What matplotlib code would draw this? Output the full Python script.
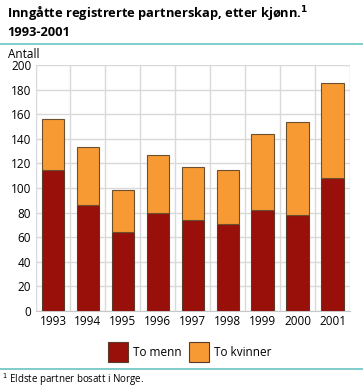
import matplotlib.pyplot as plt
import numpy as np
from matplotlib.patches import Rectangle
from matplotlib.lines import Line2D

plt.rcParams['font.family'] = ['Open Sans', 'DejaVu Sans']

years = ['1993', '1994', '1995', '1996', '1997', '1998', '1999', '2000', '2001']
menn = [115, 86, 64, 80, 74, 71, 82, 78, 108]
kvinner = [41, 47, 34, 47, 43, 44, 62, 76, 77]

c_menn = '#990f0a'
c_kvinner = '#f79a33'
teal = '#6cc4c4'

fig = plt.figure(figsize=(3.63, 3.87), dpi=100)
W, H = 363, 387

ax = fig.add_axes([35.5 / W, 1 - 311 / H, (350 - 35.5) / W, (311 - 65) / H])
x = np.arange(len(years))
ax.bar(x, menn, width=0.64, color=c_menn, edgecolor='#5a3a2a', linewidth=0.8, zorder=3)
ax.bar(x, kvinner, bottom=menn, width=0.64, color=c_kvinner, edgecolor='#6b5030', linewidth=0.8, zorder=3)

ax.set_xlim(-0.5, len(years) - 0.5)
ax.set_ylim(0, 200)
ax.set_yticks(range(0, 201, 20))
ax.set_xticks(x)
ax.set_xticklabels(years)
ax.set_xticks(np.arange(-0.5, len(years)), minor=True)
ax.grid(axis='y', which='major', color='#d9d9d9', linewidth=1, zorder=0)
ax.grid(axis='x', which='minor', color='#d9d9d9', linewidth=1, zorder=0)
ax.tick_params(axis='both', which='both', length=0, labelsize=8.5, pad=3)
for s in ['top', 'right', 'left']:
    ax.spines[s].set_visible(False)
ax.spines['bottom'].set_color('#c8c8c8')

fig.text(7 / W, 1 - 4 / H, 'Inngåtte registrerte partnerskap, etter kjønn.$^{\\mathbf{1}}$\n1993-2001',
         fontsize=9.3, fontweight='bold', va='top', ha='left', linespacing=1.2)
fig.add_artist(Line2D([0, 1], [1 - 44 / H, 1 - 44 / H], color=teal, linewidth=1.2))
fig.text(8 / W, 1 - 55 / H, 'Antall', fontsize=8.5, va='center', ha='left')

# legend
for px, label, col in [(108, 'To menn', c_menn), (189, 'To kvinner', c_kvinner)]:
    fig.add_artist(Rectangle((px / W, 1 - 362 / H), 20 / W, 20 / H, facecolor=col,
                             edgecolor='#5a3a2a', linewidth=0.8, transform=fig.transFigure))
    fig.text((px + 25) / W, 1 - 352 / H, label, fontsize=8.5, va='center', ha='left')

fig.add_artist(Line2D([0, 1], [1 - 369 / H, 1 - 369 / H], color=teal, linewidth=1.2))
fig.text(2 / W, 1 - 380 / H, '$^{1}$ Eldste partner bosatt i Norge.', fontsize=7, va='center', ha='left')

fig.savefig('out.png', dpi=100)
